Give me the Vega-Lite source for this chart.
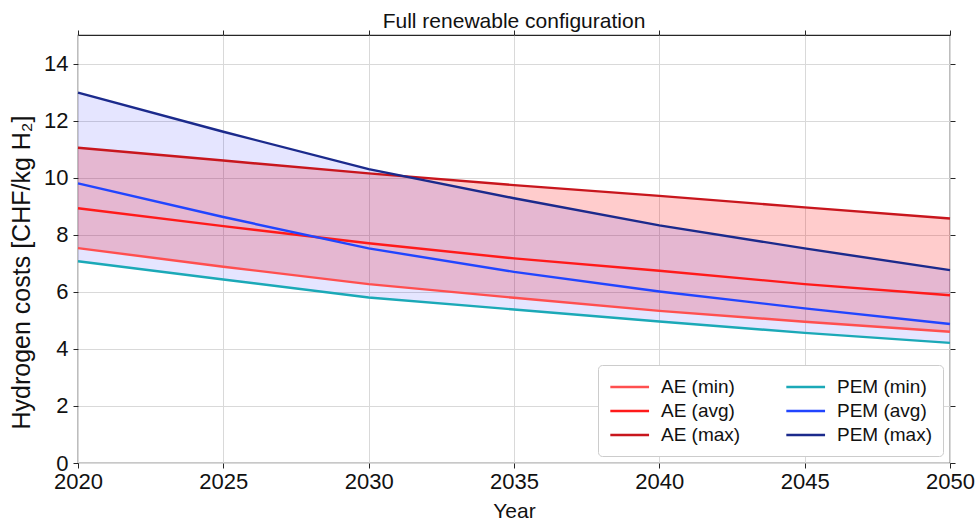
{
  "$schema": "https://vega.github.io/schema/vega-lite/v6.json",
  "autosize": {"type": "none"},
  "width": 872,
  "height": 428,
  "padding": {"left": 78, "top": 35, "right": 29, "bottom": 58},
  "background": "white",
  "config": {
    "font": "Liberation Sans",
    "view": {"stroke": "#262626", "strokeWidth": 1.2},
    "axis": {
      "domain": false,
      "gridColor": "#d9d9d9",
      "gridWidth": 1,
      "tickColor": "#262626",
      "tickSize": 5,
      "tickWidth": 1,
      "labelFontSize": 22,
      "labelColor": "#111",
      "titleFontSize": 21,
      "titleFontWeight": "normal",
      "titleColor": "#111"
    },
    "title": {"fontSize": 21, "fontWeight": "normal", "color": "#111", "offset": -2}
  },
  "title": {"text": "Full renewable configuration"},
  "data": {
    "values": [
      {"year": 2020, "ae_min": 7.53, "ae_avg": 8.93, "ae_max": 11.05, "pem_min": 7.07, "pem_avg": 9.80, "pem_max": 12.98},
      {"year": 2025, "ae_min": 6.88, "ae_avg": 8.30, "ae_max": 10.60, "pem_min": 6.43, "pem_avg": 8.62, "pem_max": 11.61},
      {"year": 2030, "ae_min": 6.27, "ae_avg": 7.70, "ae_max": 10.15, "pem_min": 5.80, "pem_avg": 7.52, "pem_max": 10.30},
      {"year": 2035, "ae_min": 5.79, "ae_avg": 7.17, "ae_max": 9.74, "pem_min": 5.38, "pem_avg": 6.70, "pem_max": 9.28},
      {"year": 2040, "ae_min": 5.33, "ae_avg": 6.74, "ae_max": 9.36, "pem_min": 4.96, "pem_avg": 6.01, "pem_max": 8.33},
      {"year": 2045, "ae_min": 4.95, "ae_avg": 6.27, "ae_max": 8.96, "pem_min": 4.56, "pem_avg": 5.42, "pem_max": 7.52},
      {"year": 2050, "ae_min": 4.60, "ae_avg": 5.88, "ae_max": 8.57, "pem_min": 4.21, "pem_avg": 4.87, "pem_max": 6.76}
    ]
  },
  "resolve": {"axis": {"x": "independent", "y": "independent"}},
  "layer": [
    {
      "mark": {"type": "area", "color": "#ff0000", "opacity": 0.2},
      "encoding": {
        "x": {"field": "year", "type": "quantitative", "scale": {"domain": [2020, 2050], "nice": false, "zero": false},
          "axis": {"orient": "bottom", "values": [2020, 2025, 2030, 2035, 2040, 2045, 2050], "format": "d", "title": "Year", "labelFlush": false, "labelOverlap": false, "labelPadding": 3, "titleY": 54, "titleBaseline": "alphabetic"}},
        "y": {"field": "ae_min", "type": "quantitative", "scale": {"domain": [0, 15], "nice": false},
          "axis": {"orient": "left", "values": [0, 2, 4, 6, 8, 10, 12, 14], "title": "Hydrogen costs [CHF/kg H₂]", "titleFontSize": 25, "labelPadding": 5, "titleX": -44, "titleY": 237, "titleAngle": 270, "titleAlign": "center", "titleBaseline": "bottom"}},
        "y2": {"field": "ae_max"}
      }
    },
    {
      "mark": {"type": "area", "color": "#0000ff", "opacity": 0.1},
      "encoding": {
        "x": {"field": "year", "type": "quantitative", "axis": {"orient": "top", "values": [2020, 2025, 2030, 2035, 2040, 2045, 2050], "labels": false, "grid": false, "title": null}},
        "y": {"field": "pem_min", "type": "quantitative", "axis": {"orient": "right", "values": [0, 2, 4, 6, 8, 10, 12, 14], "labels": false, "grid": false, "title": null}},
        "y2": {"field": "pem_max"}
      }
    },
    {
      "transform": [
        {"fold": ["ae_min", "ae_avg", "ae_max", "pem_min", "pem_avg", "pem_max"], "as": ["key", "value"]},
        {"lookup": "key", "from": {"data": {"values": [
          {"key": "ae_min", "series": "AE (min)"},
          {"key": "ae_avg", "series": "AE (avg)"},
          {"key": "ae_max", "series": "AE (max)"},
          {"key": "pem_min", "series": "PEM (min)"},
          {"key": "pem_avg", "series": "PEM (avg)"},
          {"key": "pem_max", "series": "PEM (max)"}
        ]}, "key": "key", "fields": ["series"]}}
      ],
      "mark": {"type": "line", "strokeWidth": 2.4},
      "encoding": {
        "x": {"field": "year", "type": "quantitative", "axis": null},
        "y": {"field": "value", "type": "quantitative", "axis": null},
        "color": {
          "field": "series", "type": "nominal",
          "scale": {
            "domain": ["AE (min)", "AE (avg)", "AE (max)", "PEM (min)", "PEM (avg)", "PEM (max)"],
            "range": ["#ff4f4f", "#ff1a1a", "#c8161d", "#1ba9b7", "#2145ff", "#1b2a8c"]
          },
          "legend": {
            "title": null,
            "orient": "bottom-right",
            "offset": 7,
            "columns": 2,
            "columnPadding": 40,
            "rowPadding": 3,
            "symbolType": "M-1,0H3",
            "symbolSize": 375,
            "symbolStrokeWidth": 2.5,
            "labelFontSize": 19,
            "labelColor": "#111",
            "labelOffset": 30,
            "padding": 11,
            "fillColor": "white",
            "strokeColor": "#cccccc",
            "cornerRadius": 4
          }
        }
      }
    }
  ]
}
